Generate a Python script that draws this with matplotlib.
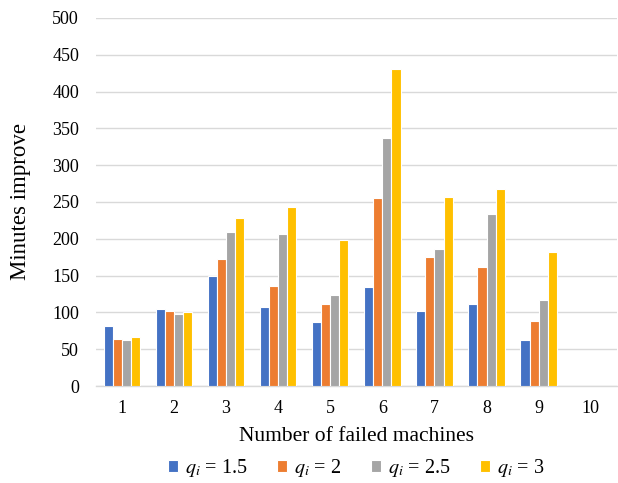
import numpy as np
import matplotlib
matplotlib.use("Agg")
import matplotlib.pyplot as plt

plt.rcParams['font.family'] = ['Liberation Serif', 'DejaVu Serif']
plt.rcParams['mathtext.fontset'] = 'stix'

machines = ["1", "2", "3", "4", "5", "6", "7", "8", "9", "10"]
q_15 = [81, 105, 149, 108, 87, 135, 102, 111, 63, 0]
q_2 = [64, 102, 173, 136, 111, 255, 175, 162, 88, 0]
q_25 = [63, 98, 209, 207, 123, 337, 186, 234, 117, 0]
q_3 = [67, 101, 228, 243, 198, 431, 257, 268, 182, 0]

series = [q_15, q_2, q_25, q_3]
labels = [r"$q_i$ = 1.5", r"$q_i$ = 2", r"$q_i$ = 2.5", r"$q_i$ = 3"]
colors = ["#4472C4", "#ED7D31", "#A5A5A5", "#FFC000"]

fig = plt.figure(figsize=(6.18, 4.83), dpi=100)
ax = fig.add_axes([0.155, 0.2008, 0.843, 0.762])

x = np.arange(len(machines))
w = 0.175
for i, (vals, lab, col) in enumerate(zip(series, labels, colors)):
    ax.bar(x + (i - 1.5) * w, vals, width=w, color=col, label=lab,
           edgecolor="white", linewidth=0.8, zorder=3)

ax.set_xlim(-0.5, len(machines) - 0.5)
ax.set_ylim(0, 500)
ax.set_yticks(np.arange(0, 501, 50))
ax.set_xticks(x)
ax.set_xticklabels(machines)
ax.yaxis.grid(True, color="#D9D9D9", linewidth=1.0, zorder=0)
ax.set_axisbelow(True)
for s in ["top", "right", "left"]:
    ax.spines[s].set_visible(False)
ax.spines["bottom"].set_color("#D9D9D9")
ax.spines["bottom"].set_linewidth(1.0)
ax.tick_params(axis="both", length=0, labelsize=13, colors="black")
ax.tick_params(axis="x", pad=10)
ax.tick_params(axis="y", pad=12)

ax.set_xlabel("Number of failed machines", fontsize=15.5, labelpad=7)
ax.set_ylabel("Minutes improve", fontsize=16.5, labelpad=15)

ax.legend(loc="upper center", bbox_to_anchor=(0.5, -0.161), ncol=4,
          frameon=False, fontsize=14.5, handlelength=0.5, handleheight=0.5,
          columnspacing=1.45, handletextpad=0.35, borderaxespad=0.2)

fig.savefig("out.png", dpi=100)
